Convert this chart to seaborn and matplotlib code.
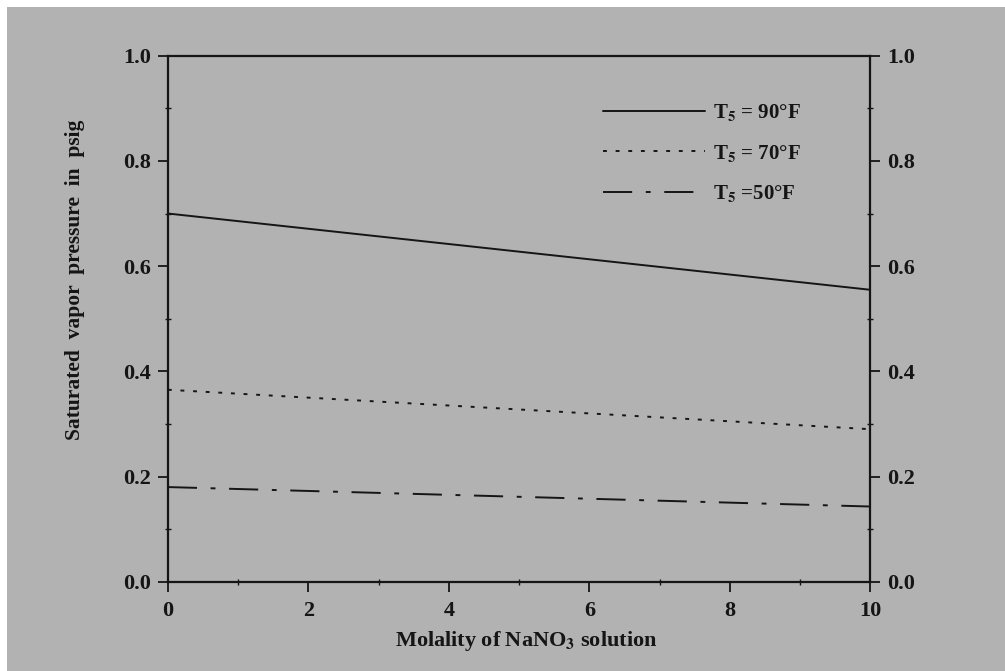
import numpy as np
import pandas as pd
import seaborn as sns
import matplotlib
matplotlib.use("Agg")
import matplotlib.pyplot as plt
from matplotlib.patches import Rectangle
from matplotlib.ticker import MultipleLocator

# ---- data ----
molality = [0, 10]
p_90F = [0.700, 0.555]
p_70F = [0.365, 0.290]
p_50F = [0.180, 0.143]
series_labels = [r"T$_5$ = 90°F", r"T$_5$ = 70°F", r"T$_5$ =50°F"]
x_ticks = [0, 2, 4, 6, 8, 10]
y_ticks = [0.0, 0.2, 0.4, 0.6, 0.8, 1.0]

df = pd.DataFrame({
    "molality": molality * 3,
    "pressure": p_90F + p_70F + p_50F,
    "series": [series_labels[0]] * 2 + [series_labels[1]] * 2 + [series_labels[2]] * 2,
})

sns.set_style("ticks")
plt.rcParams["font.family"] = ["Liberation Serif", "DejaVu Serif"]
plt.rcParams["mathtext.fontset"] = "stix"
plt.rcParams["font.weight"] = "bold"

BG = "#b2b2b2"
INK = "#151515"

fig = plt.figure(figsize=(10.05, 6.71), dpi=100, facecolor="white")
fig.patches.append(Rectangle((0.007, 0), 0.993, 0.99, transform=fig.transFigure,
                             facecolor=BG, edgecolor="none", zorder=-10))
ax = fig.add_axes([0.167, 0.133, 0.699, 0.784])
ax.set_facecolor("none")

dashes = {series_labels[0]: "", series_labels[1]: (2, 4.5), series_labels[2]: (15, 7, 2.5, 7)}
sns.lineplot(data=df, x="molality", y="pressure", hue="series", style="series",
             palette=[INK] * 3, dashes=dashes, linewidth=1.4, ax=ax, legend=True)

ax.set_xlim(0, 10)
ax.set_ylim(0, 1.0)
ax.set_xticks(x_ticks)
ax.set_xticklabels([str(v) for v in x_ticks])
ax.set_yticks(y_ticks)
ax.set_yticklabels([f"{v:.1f}" for v in y_ticks])
ax.xaxis.set_minor_locator(MultipleLocator(1))
ax.yaxis.set_minor_locator(MultipleLocator(0.1))
for s in ax.spines.values():
    s.set_color(INK)
    s.set_linewidth(1.6)
ax.tick_params(axis="both", which="major", direction="out", length=7, width=1.3,
               colors=INK, labelsize=16, pad=5)
ax.tick_params(axis="both", which="minor", direction="inout", length=5, width=1.0, colors=INK)
ax.tick_params(axis="x", pad=7)

ax2 = ax.twinx()
ax2.set_ylim(0, 1.0)
ax2.set_yticks(y_ticks)
ax2.set_yticklabels([f"{v:.1f}" for v in y_ticks])
ax2.yaxis.set_minor_locator(MultipleLocator(0.1))
ax2.tick_params(axis="y", which="major", direction="out", length=7, width=1.3,
                colors=INK, labelsize=16, pad=5)
ax2.tick_params(axis="y", which="minor", direction="inout", length=5, width=1.0, colors=INK)
for s in ax2.spines.values():
    s.set_visible(False)

ax.set_xlabel(r"Molality of NaNO$_3$ solution", fontsize=16, fontweight="bold", color=INK)
ax.xaxis.set_label_coords(0.51, -0.09)
ax.set_ylabel("Saturated  vapor  pressure  in  psig", fontsize=15.5, fontweight="bold", color=INK)
ax.yaxis.set_label_coords(-0.118, 0.574)

leg = ax.legend(loc="upper left", bbox_to_anchor=(0.607, 0.928), frameon=False,
                fontsize=15, handlelength=4.9, handletextpad=0.4, labelspacing=0.95,
                borderaxespad=0, title=None)
for t in leg.get_texts():
    t.set_color(INK)

fig.savefig("out.png", dpi=100, facecolor=fig.get_facecolor())
